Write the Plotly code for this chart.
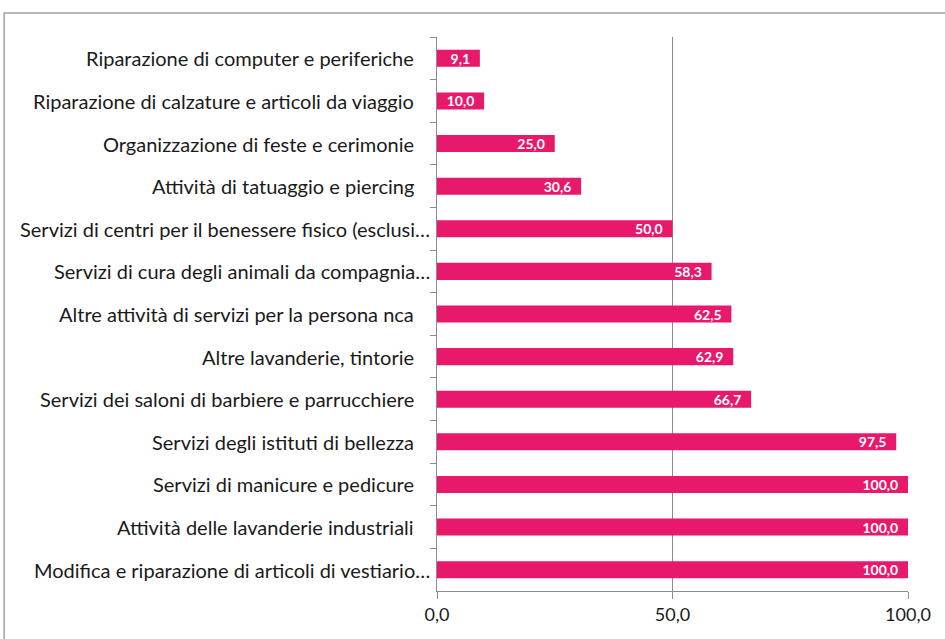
import plotly.graph_objects as go

categories = [
    "Riparazione di computer e periferiche",
    "Riparazione di calzature e articoli da viaggio",
    "Organizzazione di feste e cerimonie",
    "Attività di tatuaggio e piercing",
    "Servizi di centri per il benessere fisico (esclusi…",
    "Servizi di cura degli animali da compagnia…",
    "Altre attività di servizi per la persona nca",
    "Altre lavanderie, tintorie",
    "Servizi dei saloni di barbiere e parrucchiere",
    "Servizi degli istituti di bellezza",
    "Servizi di manicure e pedicure",
    "Attività delle lavanderie industriali",
    "Modifica e riparazione di articoli di vestiario…",
]
values = [9.1, 10.0, 25.0, 30.6, 50.0, 58.3, 62.5, 62.9, 66.7, 97.5, 100.0, 100.0, 100.0]
tick_vals = [0, 50, 100]
tick_text = ["0,0", "50,0", "100,0"]

FONT = "Lato, 'Open Sans', sans-serif"
BAR = "#E8196A"
GRID = "#8C8C8C"

fig = go.Figure(go.Bar(
    x=values, y=categories, orientation="h",
    marker=dict(color=BAR, line=dict(width=0)),
    texttemplate="%{x:.1f}\u00a0\u00a0", textposition="inside", insidetextanchor="end",
    textfont=dict(color="white", size=14, family=FONT, weight="bold"),
    textangle=0, cliponaxis=False, hoverinfo="skip",
))

fig.update_layout(
    width=945, height=639,
    margin=dict(l=437, r=37, t=37, b=48),
    paper_bgcolor="white", plot_bgcolor="white",
    separators=",.",
    bargap=0.6,
    showlegend=False,
    font=dict(family=FONT, size=20, color="#1a1a1a"),
    uniformtext=dict(minsize=14, mode="show"),
)
fig.update_xaxes(
    range=[0, 100], tickvals=tick_vals, ticktext=tick_text,
    showgrid=True, gridcolor=GRID, gridwidth=1,
    showline=True, linecolor=GRID, linewidth=1,
    ticks="outside", ticklen=7, tickcolor=GRID,
    zeroline=False, tickfont=dict(size=18, family=FONT),
    fixedrange=True, automargin=False,
)
fig.update_yaxes(
    autorange="reversed", showline=True, linecolor=GRID, linewidth=1,
    ticks="outside", ticklen=6, tickcolor=GRID, tickson="boundaries",
    showgrid=False, showticklabels=False,
    fixedrange=True, automargin=False,
)
# category labels as annotations (truncated labels sit closer to the axis, as in the original)
for cat in categories:
    fig.add_annotation(
        x=0, xref="paper", y=cat, yref="y", text=cat, showarrow=False,
        xanchor="right", yanchor="middle",
        xshift=-5 if cat.endswith("…") else -21,
        font=dict(size=20, family=FONT, color="#1a1a1a"),
    )
fig.add_shape(type="rect", xref="paper", yref="paper",
              x0=-0.919, x1=1.09, y0=-0.1, y1=1.0433,
              line=dict(color="#A0A0A0", width=1.5), fillcolor="rgba(0,0,0,0)", layer="below")

fig.write_html("out.html", config={"displayModeBar": False},
               post_script="document.body.style.margin='0';")
